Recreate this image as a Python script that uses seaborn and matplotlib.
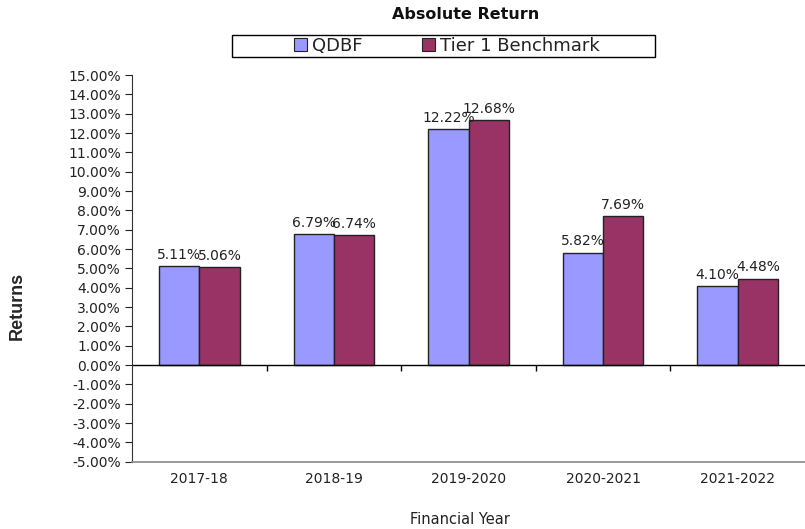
import matplotlib
matplotlib.use("Agg")
import matplotlib.pyplot as plt
import seaborn as sns
import pandas as pd
from matplotlib.ticker import FuncFormatter, MultipleLocator
from matplotlib.patches import Patch, Rectangle

years = ["2017-18", "2018-19", "2019-2020", "2020-2021", "2021-2022"]
qdbf = [5.11, 6.79, 12.22, 5.82, 4.10]
bench = [5.06, 6.74, 12.68, 7.69, 4.48]
series = ["QDBF", "Tier 1 Benchmark"]
colors = ["#9999FF", "#993366"]

df = pd.DataFrame({
    "year": years * 2,
    "value": qdbf + bench,
    "series": [series[0]] * len(years) + [series[1]] * len(years),
})

sns.set_style("white")
plt.rcParams["font.family"] = ["DejaVu Sans"]

W, H = 805, 529
fig = plt.figure(figsize=(W / 100, H / 100), dpi=100)
ax = fig.add_axes([0.164, 0.127, 0.836, 0.731])

sns.barplot(data=df, x="year", y="value", hue="series", palette=colors,
            width=0.6, edgecolor="#222222", linewidth=1.0, ax=ax, legend=False,
            saturation=1)

for cont in ax.containers:
    ax.bar_label(cont, labels=[f"{v:.2f}%" for v in cont.datavalues],
                 fontsize=10, padding=3, color="#222222")

ax.set_ylim(-5, 15)
ax.set_xlim(-0.5, 4.5)
ax.yaxis.set_major_locator(MultipleLocator(1))
ax.yaxis.set_major_formatter(FuncFormatter(lambda v, p: f"{v:.2f}%"))
ax.axhline(0, color="black", linewidth=1.0)
ax.vlines([0.5, 1.5, 2.5, 3.5], -0.28, 0, color="black", linewidth=1.0)

for s in ["top", "right"]:
    ax.spines[s].set_visible(False)
ax.spines["left"].set_color("#333333")
ax.spines["bottom"].set_color("#888888")
ax.spines["bottom"].set_linewidth(1.2)
ax.tick_params(axis="y", which="major", left=True, length=5, width=0.8,
               labelsize=10, colors="#222222", pad=3)
ax.tick_params(axis="x", bottom=False, labelsize=10, pad=4, colors="#222222")

ax.set_xlabel("")
ax.set_ylabel("")
fig.text(460 / W, 1 - 519 / H, "Financial Year", ha="center", va="center",
         fontsize=10.5, color="#222222")
fig.text(17 / W, 1 - 306 / H, "Returns", rotation=90, ha="center",
         va="center", fontsize=13, fontweight="bold",
         family=["Liberation Sans"])

fig.text(0.578, 0.973, "Absolute Return", ha="center", va="center",
         fontsize=11.5, fontweight="bold", color="#111111")

# legend frame
fig.patches.append(Rectangle((232 / W, 1 - 57 / H), (655 - 232) / W, 22 / H,
                             transform=fig.transFigure, fill=False,
                             edgecolor="black", linewidth=1.0))
handles = [Patch(facecolor=c, edgecolor="#222222", linewidth=0.8) for c in colors]
leg = fig.legend(handles, series, loc="center", bbox_to_anchor=(447 / W, 1 - 46 / H),
                 ncol=2, frameon=False, fontsize=13,
                 handlelength=0.7, handleheight=0.7, handletextpad=0.3,
                 columnspacing=3.3, borderpad=0.0, borderaxespad=0)
for t in leg.get_texts():
    t.set_color("#222222")

fig.savefig("out.png", dpi=100)
